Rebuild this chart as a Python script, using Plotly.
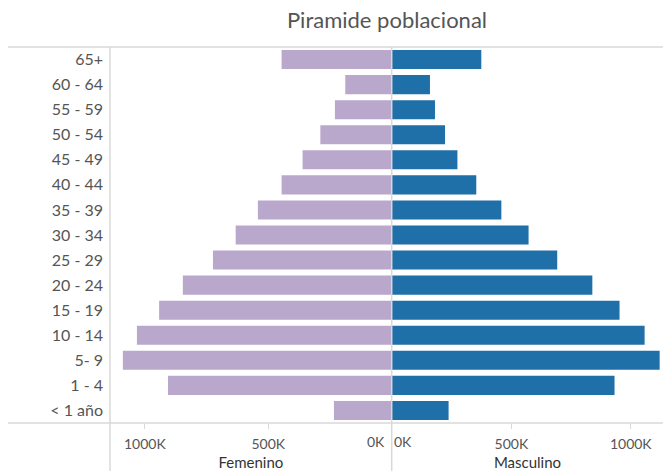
import plotly.graph_objects as go

# Age groups, bottom to top
grupos = ["< 1 año", "1 - 4", "5- 9", "10 - 14", "15 - 19", "20 - 24", "25 - 29",
          "30 - 34", "35 - 39", "40 - 44", "45 - 49", "50 - 54", "55 - 59",
          "60 - 64", "65+"]
femenino = [234000, 906000, 1089000, 1032000, 942000, 846000, 724000,
            632000, 542000, 446000, 361000, 289000, 230000, 188000, 446000]
masculino = [237000, 932000, 1121000, 1058000, 953000, 839000, 692000,
             572000, 458000, 353000, 274000, 222000, 180000, 159000, 374000]

tick_vals = [500000, 1000000]
tick_text = ["500K", "1000K"]

W, H = 663, 471
TOP, BOTTOM = 47, 423
X_AXIS, X_MID = 110, 391.7

FONT = "Lato"
GREY_TXT = "#555555"
LINE = "#d9d9d9"

def px_x(x):
    return x / W

def px_y(y):
    return (BOTTOM - y) / (BOTTOM - TOP)

fig = go.Figure()
fig.add_trace(go.Bar(y=grupos, x=femenino, orientation="h", name="Femenino",
                     marker=dict(color="#baa7cc", line=dict(width=0)),
                     xaxis="x", yaxis="y"))
fig.add_trace(go.Bar(y=grupos, x=masculino, orientation="h", name="Masculino",
                     marker=dict(color="#1f6fa8", line=dict(width=0)),
                     xaxis="x2", yaxis="y2"))

axis_common = dict(
    showgrid=False, zeroline=False, showline=False,
    ticks="outside", ticklen=5, tickcolor=LINE, tickwidth=1,
    tickvals=tick_vals, ticktext=tick_text, ticklabelstandoff=3,
    tickfont=dict(family=FONT, size=14, color=GREY_TXT),
    fixedrange=True,
)

fig.update_layout(
    width=W, height=H,
    margin=dict(l=0, r=0, t=TOP, b=H - BOTTOM),
    paper_bgcolor="white", plot_bgcolor="white",
    showlegend=False,
    bargap=0.24,
    title=dict(text="Piramide poblacional", x=387 / W, xanchor="center",
               y=1 - 20 / H, yanchor="middle",
               font=dict(family=FONT, size=22, color=GREY_TXT)),
    xaxis=dict(domain=[px_x(X_AXIS), px_x(X_MID)], range=[1141000, 0],
               title=dict(text="Femenino", standoff=8,
                          font=dict(family=FONT, size=15, color="#333333")),
               **axis_common),
    xaxis2=dict(domain=[px_x(392), 1], range=[0, 1135000],
                title=dict(text="Masculino", standoff=8,
                           font=dict(family=FONT, size=15, color="#333333")),
                **axis_common),
    yaxis=dict(categoryorder="array", categoryarray=grupos,
               showgrid=False, zeroline=False, showline=False, ticks="",
               ticklabelstandoff=6,
               tickfont=dict(family=FONT, size=16, color=GREY_TXT),
               anchor="x", fixedrange=True),
    yaxis2=dict(matches="y", showticklabels=False, showgrid=False,
                zeroline=False, showline=False, ticks="",
                anchor="x2", fixedrange=True),
)

# Pane borders
line_style = dict(color=LINE, width=1.5)
shapes = [
    dict(type="line", xref="paper", yref="paper", x0=px_x(8), x1=1,
         y0=1, y1=1, line=line_style),
    dict(type="line", xref="paper", yref="paper", x0=px_x(8), x1=1,
         y0=0, y1=0, line=line_style),
    dict(type="line", xref="paper", yref="paper", x0=px_x(X_AXIS), x1=px_x(X_AXIS),
         y0=1, y1=px_y(H), line=line_style),
    dict(type="line", xref="paper", yref="paper", x0=px_x(X_MID), x1=px_x(X_MID),
         y0=1, y1=px_y(H), line=line_style),
]
fig.update_layout(shapes=shapes)

# Zero labels kept inside their own pane
fig.add_annotation(x=0, xref="x", y=0, yref="paper", yshift=-18, yanchor="middle",
                   text="0K", showarrow=False, xanchor="right", xshift=-5,
                   font=dict(family=FONT, size=14, color=GREY_TXT))
fig.add_annotation(x=0, xref="x2", y=0, yref="paper", yshift=-18, yanchor="middle",
                   text="0K", showarrow=False, xanchor="left", xshift=0,
                   font=dict(family=FONT, size=14, color=GREY_TXT))

fig.write_html("out.html")
